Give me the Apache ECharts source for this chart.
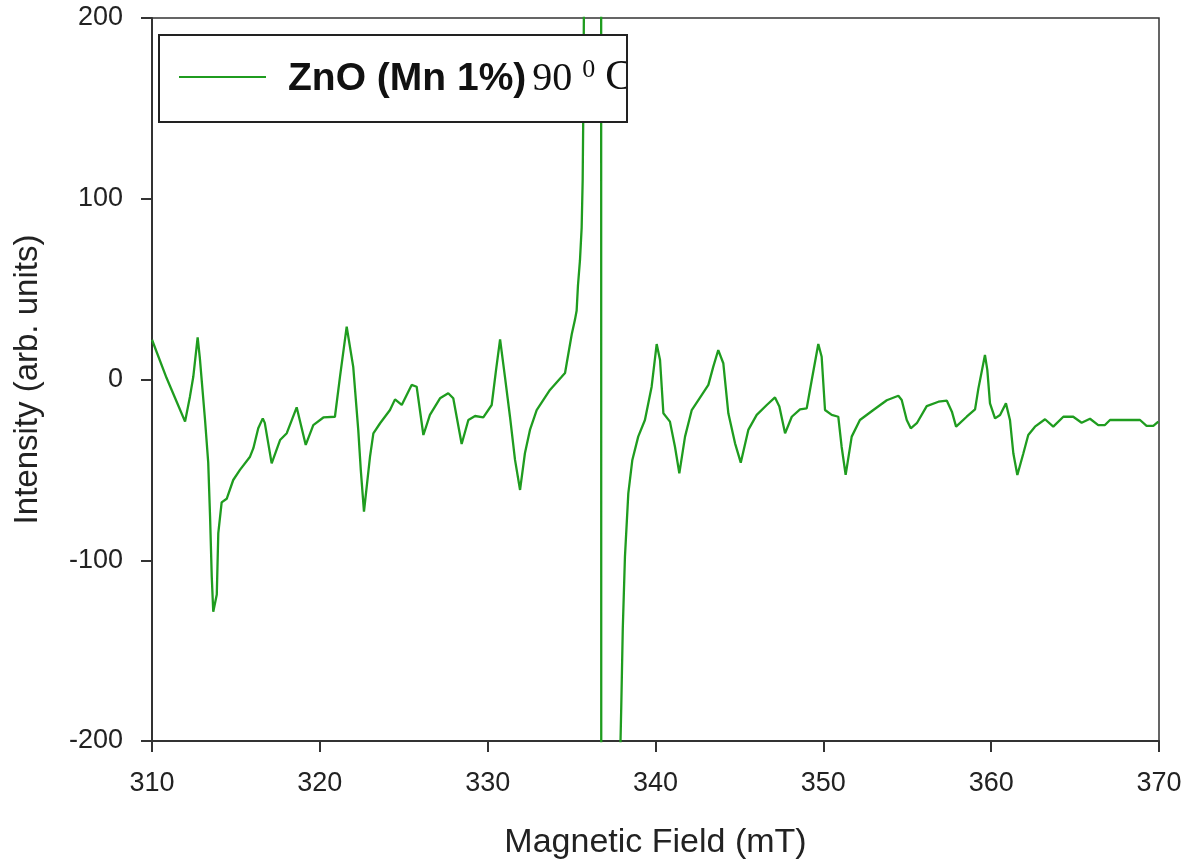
<!DOCTYPE html>
<html>
<head>
<meta charset="utf-8">
<title>ZnO (Mn 1%) EPR spectrum</title>
<script src="https://cdn.jsdelivr.net/npm/echarts@6/dist/echarts.min.js"></script>
<style>
  html, body { margin: 0; padding: 0; background: #ffffff; }
  #chart { width: 1186px; height: 865px; }
</style>
</head>
<body>
<div id="chart"></div>
<script>
// EPR derivative spectrum of Mn-doped ZnO, field in mT
const fieldMT = [
  310.0, 310.87, 311.47, 311.97, 312.26, 312.46, 312.72, 312.85, 313.16, 313.35,
  313.46, 313.56, 313.65, 313.86, 313.95, 314.15, 314.45, 314.84, 315.24, 315.84,
  316.04, 316.33, 316.6, 316.72, 317.13, 317.63, 318.03, 318.62, 319.16, 319.61,
  320.21, 320.9, 321.2, 321.6, 321.99, 322.29, 322.44, 322.63, 322.99, 323.19,
  323.59, 324.18, 324.48, 324.88, 325.47, 325.77, 326.17, 326.56, 327.16, 327.65,
  327.95, 328.45, 328.85, 329.25, 329.74, 330.24, 330.5, 330.74, 331.03, 331.33,
  331.63, 331.93, 332.22, 332.52, 332.92, 333.71, 334.41, 334.61, 334.71, 335.01,
  335.2, 335.3, 335.38, 335.5, 335.6, 335.66, 335.7, 335.75, 336.2, 336.76, 336.77,
  337.4, 337.88, 337.96, 338.05, 338.18, 338.38, 338.62, 338.97, 339.37, 339.77,
  340.07, 340.27, 340.47, 340.86, 341.16, 341.42, 341.76, 342.16, 342.75, 343.15,
  343.44, 343.74, 344.04, 344.34, 344.74, 345.08, 345.53, 346.03, 346.63, 347.12,
  347.38, 347.72, 348.12, 348.61, 349.01, 349.31, 349.7, 349.9, 350.1, 350.5,
  350.89, 351.09, 351.33, 351.69, 352.18, 352.98, 353.78, 354.47, 354.67, 354.97,
  355.21, 355.57, 356.16, 356.86, 357.36, 357.66, 357.91, 358.54, 359.04, 359.24,
  359.63, 359.77, 359.93, 360.23, 360.53, 360.88, 361.12, 361.32, 361.56, 361.92,
  362.21, 362.61, 363.21, 363.7, 364.3, 364.89, 365.39, 365.89, 366.38, 366.78,
  367.08, 368.87, 369.26, 369.66, 369.96
];

const intensity = [
  22, 0.8, -12.3, -23.3, -9.5, 1.5, 23.3, 12, -22.4, -46,
  -76, -109, -128.5, -119, -85, -68, -66, -55.6, -50, -42.7,
  -38, -27, -21.5, -24, -46.4, -33.5, -29.7, -15.4, -36.2, -25.2,
  -21, -20.6, 1.5, 29.2, 7, -28, -50, -73.1, -42.7, -29.8,
  -24.2, -16.9, -11, -14.1, -3, -4, -30.7, -19.6, -10.4, -7.6,
  -10.4, -35.7, -22.4, -20.2, -20.9, -14.1, 5.3, 22.2, 1.5, -20.6,
  -44.5, -61.1, -40.8, -27.9, -16.9, -5.8, 1.5, 3.6, 9, 25,
  33, 38, 52, 66, 84, 110, 150, 230, 900, 400, -400,
  -900, -215, -181, -138, -98, -63, -44.5, -31.6, -22.4, -4,
  19.6, 10.8, -18.7, -23.3, -37.2, -51.9, -31.6, -16.9, -8.6, -3,
  7, 16.3, 9, -18.7, -35.3, -46, -27.9, -19.6, -14.1, -9.9,
  -15, -29.8, -20.6, -16.5, -16, -0.3, 19.6, 12.6, -16.9, -19.6,
  -20.6, -37.2, -52.8, -31.6, -22.4, -16.9, -11.5, -9, -11.3, -22.4,
  -27, -24.2, -14.7, -12.3, -11.7, -17.8, -26.1, -20.6, -16.5, -4.9,
  13.6, 5.3, -13.2, -21.5, -19.6, -13.2, -22.4, -40.8, -52.8, -40.8,
  -30.7, -26.1, -22, -26.1, -20.6, -20.6, -23.9, -21.7, -25.2, -25.2,
  -22.4, -22.4, -25.7, -25.7, -23.3
];

const xTicks = { min: 310, max: 370, step: 10 };
const yTicks = { min: -200, max: 200, step: 100 };

const seriesName = 'ZnO (Mn 1%)90⁰C';
const lineColor = '#1f9c1f';
const inkColor = '#222222';

const chart = echarts.init(document.getElementById('chart'), null, { renderer: 'canvas' });

const points = fieldMT.map((f, i) => [f, intensity[i]]);

const option = {
  backgroundColor: '#ffffff',
  animation: false,
  grid: {
    left: 152, right: 27, top: 18, bottom: 124,
    show: true, borderColor: '#333333', borderWidth: 1.5,
    containLabel: false
  },
  xAxis: {
    type: 'value',
    min: xTicks.min, max: xTicks.max, interval: xTicks.step,
    name: 'Magnetic Field (mT)',
    nameLocation: 'middle',
    nameGap: 85,
    nameTextStyle: { fontFamily: 'Liberation Sans, Arial, sans-serif', fontSize: 34, color: inkColor },
    axisLine: { show: true, onZero: false, lineStyle: { color: '#333333', width: 2 } },
    axisTick: { show: true, inside: false, length: 11, lineStyle: { color: '#333333', width: 2 } },
    axisLabel: {
      margin: 29,
      fontFamily: 'Liberation Sans, Arial, sans-serif',
      fontSize: 27, color: inkColor
    },
    splitLine: { show: false }
  },
  yAxis: {
    type: 'value',
    min: yTicks.min, max: yTicks.max, interval: yTicks.step,
    name: 'Intensity (arb. units)',
    nameLocation: 'middle',
    nameGap: 108,
    nameTextStyle: { fontFamily: 'Liberation Sans, Arial, sans-serif', fontSize: 33, color: inkColor },
    axisLine: { show: true, onZero: false, lineStyle: { color: '#333333', width: 2 } },
    axisTick: { show: true, inside: false, length: 11, lineStyle: { color: '#333333', width: 2 } },
    axisLabel: {
      margin: 29,
      fontFamily: 'Liberation Sans, Arial, sans-serif',
      fontSize: 27, color: inkColor
    },
    splitLine: { show: false }
  },
  series: [{
    name: seriesName,
    type: 'line',
    data: points,
    showSymbol: false,
    clip: true,
    lineStyle: { color: lineColor, width: 2.3 },
    z: 3
  }],
  graphic: [
    // legend box background
    { type: 'rect', z: 100, shape: { x: 159, y: 35, width: 468, height: 87 },
      style: { fill: '#ffffff', stroke: null } },
    // legend line sample
    { type: 'line', z: 101, shape: { x1: 179, y1: 77, x2: 266, y2: 77 },
      style: { stroke: lineColor, lineWidth: 2 } },
    // legend label
    { type: 'text', z: 101, x: 288, y: 78,
      style: {
        text: '{b|ZnO (Mn 1%)}{s|90}{p|0}{c|C}',
        verticalAlign: 'middle',
        rich: {
          b: { fontFamily: 'Liberation Sans, Arial, sans-serif', fontWeight: 'bold', fontSize: 39, fill: '#111111', verticalAlign: 'bottom' },
          s: { fontFamily: 'Liberation Serif, Times New Roman, serif', fontSize: 40, fill: '#111111', verticalAlign: 'bottom', padding: [0, 0, 0, 6] },
          p: { fontFamily: 'Liberation Serif, Times New Roman, serif', fontSize: 26, fill: '#111111', verticalAlign: 'top', padding: [0, 10, 0, 10] },
          c: { fontFamily: 'Liberation Serif, Times New Roman, serif', fontSize: 42, fill: '#111111', verticalAlign: 'bottom' }
        }
      } },
    // hide label overflow beyond the box
    { type: 'rect', z: 102, shape: { x: 628, y: 36, width: 60, height: 85 },
      style: { fill: '#ffffff', stroke: null } },
    // legend border
    { type: 'rect', z: 103, shape: { x: 159, y: 35, width: 468, height: 87 },
      style: { fill: null, stroke: '#222222', lineWidth: 2 } }
  ]
};

chart.setOption(option);
</script>
</body>
</html>
